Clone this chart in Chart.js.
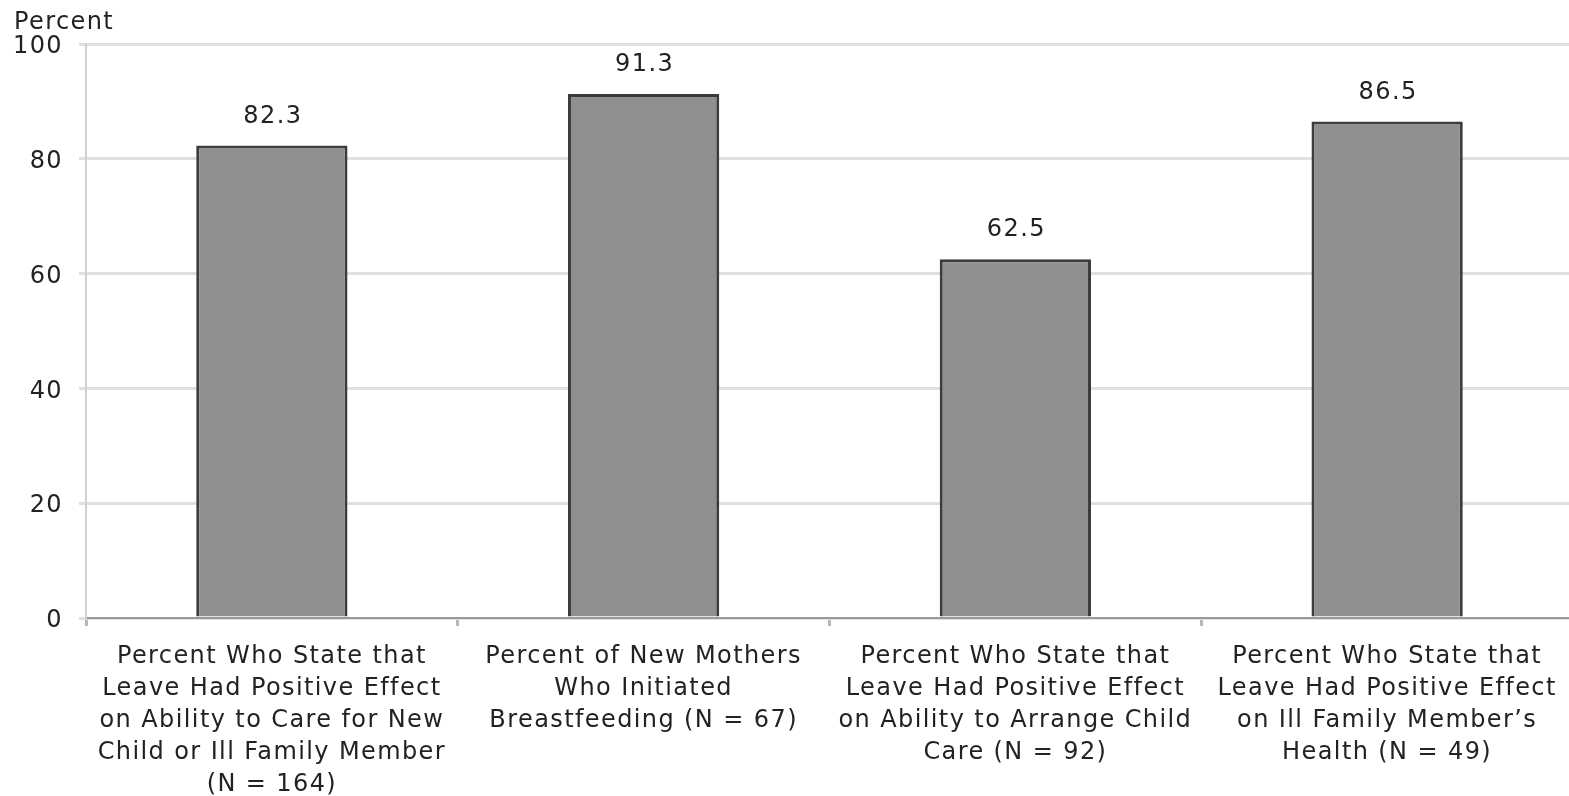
<!DOCTYPE html>
<html>
<head>
<meta charset="utf-8">
<script src="https://cdn.jsdelivr.net/npm/chart.js@4/dist/chart.umd.min.js"></script>
<style>
  html, body { margin: 0; padding: 0; background: #fff; overflow: hidden; }
  /* plot runs slightly past the right edge of the page */
  #wrap { width: 1573px; height: 796px; position: relative; }
</style>
</head>
<body>
<div id="wrap"><canvas id="c"></canvas></div>
<script>
// Category labels, one array of lines per bar
const categories = [
  ["Percent Who State that", "Leave Had Positive Effect", "on Ability to Care for New", "Child or Ill Family Member", "(N = 164)"],
  ["Percent of New Mothers", "Who Initiated", "Breastfeeding (N = 67)"],
  ["Percent Who State that", "Leave Had Positive Effect", "on Ability to Arrange Child", "Care (N = 92)"],
  ["Percent Who State that", "Leave Had Positive Effect", "on Ill Family Member\u2019s", "Health (N = 49)"]
];
const percentValues = [82.3, 91.3, 62.5, 86.5];
const yTicks = [0, 20, 40, 60, 80, 100];
const yAxisTitle = "Percent";

const FONT = "'DejaVu Sans', Verdana, sans-serif";
const TEXT = "#222";
const SPACING = "1.4px";

// Slightly looser text tracking for all canvas text
const tracking = {
  id: "tracking",
  beforeLayout(chart) { chart.ctx.letterSpacing = SPACING; },
  beforeDraw(chart) { chart.ctx.letterSpacing = SPACING; }
};

// Value labels above each bar plus the axis caption in the top-left corner
const annotate = {
  id: "annotate",
  afterDatasetsDraw(chart) {
    const ctx = chart.ctx;
    ctx.save();
    ctx.letterSpacing = SPACING;
    ctx.fillStyle = TEXT;
    ctx.font = "24px " + FONT;
    ctx.textAlign = "center";
    ctx.textBaseline = "middle";
    chart.getDatasetMeta(0).data.forEach((bar, i) => {
      ctx.fillText(percentValues[i].toFixed(1), bar.x + 1, bar.y - 29);
    });
    ctx.textAlign = "left";
    ctx.fillText(yAxisTitle, 14, 23);
    ctx.restore();
  }
};

new Chart(document.getElementById("c"), {
  type: "bar",
  data: {
    labels: categories,
    datasets: [{
      data: percentValues,
      backgroundColor: "#8f8f8f",
      borderColor: "#3c3c3c",
      borderWidth: 3,
      barPercentage: 0.407,
      categoryPercentage: 1.0
    }]
  },
  options: {
    responsive: true,
    maintainAspectRatio: false,
    animation: false,
    layout: { padding: { top: 44, right: 0, left: 0, bottom: 0 } },
    plugins: {
      legend: { display: false },
      tooltip: { enabled: false }
    },
    scales: {
      x: {
        grid: {
          drawOnChartArea: false,
          drawTicks: true,
          tickLength: 8,
          color: "#b8b8b8",
          lineWidth: 3,
          offset: true
        },
        border: { color: "#999", width: 2 },
        ticks: {
          autoSkip: false,
          maxRotation: 0,
          minRotation: 0,
          padding: 15,
          color: TEXT,
          font: { family: FONT, size: 24, lineHeight: 1.335 }
        },
        afterFit(scale) { scale.height = 178; }
      },
      y: {
        min: 0,
        max: 100,
        afterBuildTicks(scale) { scale.ticks = yTicks.map(v => ({ value: v })); },
        grid: {
          color: "#e0e0e0",
          lineWidth: 3,
          tickLength: 7
        },
        border: { color: "#d0d0d0", width: 2 },
        ticks: {
          padding: 16,
          labelOffset: 3,
          color: TEXT,
          font: { family: FONT, size: 24 }
        },
        afterFit(scale) { scale.width = 86; }
      }
    }
  },
  plugins: [tracking, annotate]
});
</script>
</body>
</html>
